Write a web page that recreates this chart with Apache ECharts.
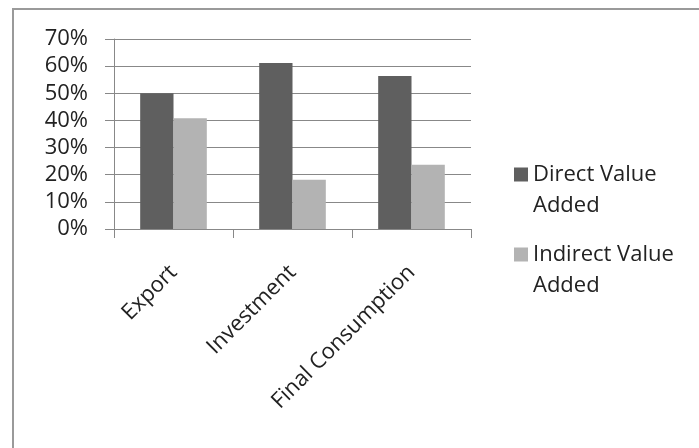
<!DOCTYPE html>
<html><head><meta charset="utf-8">
<script src="https://cdn.jsdelivr.net/npm/echarts@6/dist/echarts.min.js"></script>
<style>html,body{margin:0;padding:0;background:#fff}#c{width:699px;height:448px}</style>
</head><body><div id="c"></div>
<script>
var categories = ['Export', 'Investment', 'Final Consumption'];
var directValues = [0.50, 0.612, 0.564];
var indirectValues = [0.408, 0.181, 0.237];
var seriesNames = ['Direct Value Added', 'Indirect Value Added'];
var legendLines = {'Direct Value Added': 'Direct Value\nAdded', 'Indirect Value Added': 'Indirect Value\nAdded'};
var yTicks = [0, 0.1, 0.2, 0.3, 0.4, 0.5, 0.6, 0.7];

var FONT = 'Open Sans';
var chart = echarts.init(document.getElementById('c'), null, {renderer: 'canvas'});
function legendFor(name, top) {
  return {
    data: [name], orient: 'vertical', left: 514, top: top,
    itemWidth: 14, itemHeight: 14, itemGap: 0, padding: 0,
    icon: 'rect',
    // leading empty line keeps the first text line level with the icon
    formatter: function (n) { return '\n' + legendLines[n]; },
    textStyle: {fontFamily: FONT, fontSize: 22, color: '#222', lineHeight: 31}
  };
}
chart.setOption({
  animation: false,
  backgroundColor: '#fff',
  graphic: [{type: 'rect', shape: {x: 13, y: 9, width: 720, height: 480}, style: {fill: 'none', stroke: '#9a9a9a', lineWidth: 2}, silent: true}],
  legend: [legendFor(seriesNames[0], 128), legendFor(seriesNames[1], 208)],
  grid: {left: 114, right: 228, top: 39, bottom: 219, containLabel: false},
  xAxis: {
    type: 'category', data: categories,
    axisLine: {lineStyle: {color: '#888', width: 1}},
    axisTick: {show: true, length: 9, lineStyle: {color: '#888'}},
    axisLabel: {rotate: 45, margin: 40, fontFamily: FONT, fontSize: 22, color: '#222', interval: 0}
  },
  yAxis: {
    type: 'value', min: 0, max: 0.7, interval: 0.1,
    axisLine: {show: true, lineStyle: {color: '#888'}},
    axisTick: {show: true, length: 9, lineStyle: {color: '#888'}},
    splitLine: {lineStyle: {color: '#888'}},
    axisLabel: {margin: 26, fontFamily: FONT, fontSize: 22, color: '#222',
      formatter: function (v) { return Math.round(v * 100) + '%'; }}
  },
  series: [
    {name: seriesNames[0], type: 'bar', data: directValues, barGap: '0%', barCategoryGap: '44%', itemStyle: {color: '#5f5f5f'}},
    {name: seriesNames[1], type: 'bar', data: indirectValues, itemStyle: {color: '#b3b3b3'}}
  ]
});
</script></body></html>
